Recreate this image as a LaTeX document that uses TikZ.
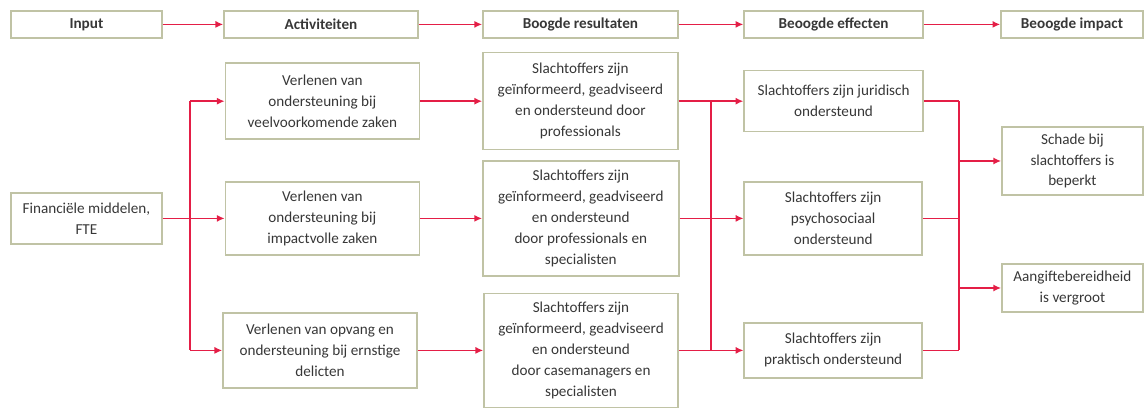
\documentclass[tikz,border=0pt]{standalone}
\usepackage{fontspec}
\setmainfont{Carlito}
\usetikzlibrary{arrows.meta}
\definecolor{boxline}{RGB}{192,195,165}
\definecolor{arrowred}{RGB}{228,30,70}
\definecolor{txt}{RGB}{55,55,55}

\begin{document}
\begin{tikzpicture}[every node/.style={draw=boxline,line width=1.1pt,text=txt,align=center,inner sep=2pt,font=\fontsize{10.8}{14.9}\selectfont},
  head/.style={font=\fontsize{10.8}{14.9}\selectfont\bfseries,minimum height=0.675cm},
  arr/.style={draw=arrowred,line width=1pt,-{Latex[length=5.5pt,width=5pt]}},
  ln/.style={draw=arrowred,line width=1pt}]
\useasboundingbox (0,0) rectangle (28.625,-10.2);

\node[head,minimum width=3.775cm] (hIn) at (2.16,-0.61){Input};
\node[head,minimum width=4.85cm] (hAct) at (8.025,-0.61){Activiteiten};
\node[head,minimum width=4.875cm] (hRes) at (14.51,-0.61){Boogde resultaten};
\node[head,minimum width=4.475cm] (hEff) at (20.84,-0.61){Beoogde effecten};
\node[head,minimum width=3.55cm] (hImp) at (26.8,-0.61){Beoogde impact};

\foreach \from/\to in {hIn/hAct,hRes/hEff,hAct/hRes,hEff/hImp}
\draw[arr] (\from) -- (\to);

\node[minimum width=3.775cm,minimum height=1.275cm] (fin) at (2.16,-5.46){Financiële middelen,\\FTE};

\node[minimum width=4.85cm,minimum height=1.9cm] (a1) at (8.06,-2.53){Verlenen van\\ondersteuning bij\\veelvoorkomende zaken};
\node[minimum width=4.85cm,minimum height=1.825cm] (a2) at (8.06,-5.46){Verlenen van\\ondersteuning bij\\impactvolle zaken};
\node[minimum width=4.85cm,minimum height=1.875cm] (a3) at (8.0,-8.76){Verlenen van opvang en\\ondersteuning bij ernstige\\delicten};

\node[minimum width=4.875cm,minimum height=2.425cm] (r1) at (14.51,-2.53){Slachtoffers zijn\\geïnformeerd, geadviseerd\\en ondersteund door\\professionals};
\node[minimum width=4.9cm,minimum height=2.875cm] (r2) at (14.52,-5.46){Slachtoffers zijn\\geïnformeerd, geadviseerd\\en ondersteund\\door professionals en\\specialisten};
\node[minimum width=4.85cm,minimum height=2.85cm] (r3) at (14.525,-8.76){Slachtoffers zijn\\geïnformeerd, geadviseerd\\en ondersteund\\door casemanagers en\\specialisten};

\node[minimum width=4.475cm,minimum height=1.525cm] (e1) at (20.84,-2.53){Slachtoffers zijn juridisch\\ondersteund};
\node[minimum width=4.45cm,minimum height=1.825cm] (e2) at (20.83,-5.46){Slachtoffers zijn\\psychosociaal\\ondersteund};
\node[minimum width=4.45cm,minimum height=1.375cm] (e3) at (20.83,-8.76){Slachtoffers zijn\\praktisch ondersteund};

\node[minimum width=3.525cm,minimum height=1.7cm] (i1) at (26.81,-4.025){Schade bij\\slachtoffers is\\beperkt};
\node[minimum width=3.525cm,minimum height=1.2cm] (i2) at (26.81,-7.2){Aangiftebereidheid\\is vergroot};

% verdeelpunten
\coordinate (t1a) at (4.75,-2.53);
\coordinate (t1b) at (4.75,-8.76);
\coordinate (t2a) at (17.775,-2.53);
\coordinate (t2b) at (17.775,-8.76);
\coordinate (t3a) at (23.975,-2.53);
\coordinate (t3b) at (23.975,-8.76);

\draw[ln] (t1a) -- (t1b);
\draw[ln] (t2a) -- (t2b);
\draw[ln] (t3a) -- (t3b);

\foreach \from/\to in {t1a/a1.west,t1b/a3.west,fin/a2,a1/r1,a2/r2,a3/r3,r1/e1,r2/e2,r3/e3}
\draw[arr] (\from) -- (\to);

\draw[ln] (e1.east) -- (t3a);
\draw[ln] (e2.east) -- (t3a |- e2.east);
\draw[ln] (e3.east) -- (t3b);
\draw[arr] (t3a |- i1.west) -- (i1.west);
\draw[arr] (t3a |- i2.west) -- (i2.west);

\end{tikzpicture}
\end{document}
